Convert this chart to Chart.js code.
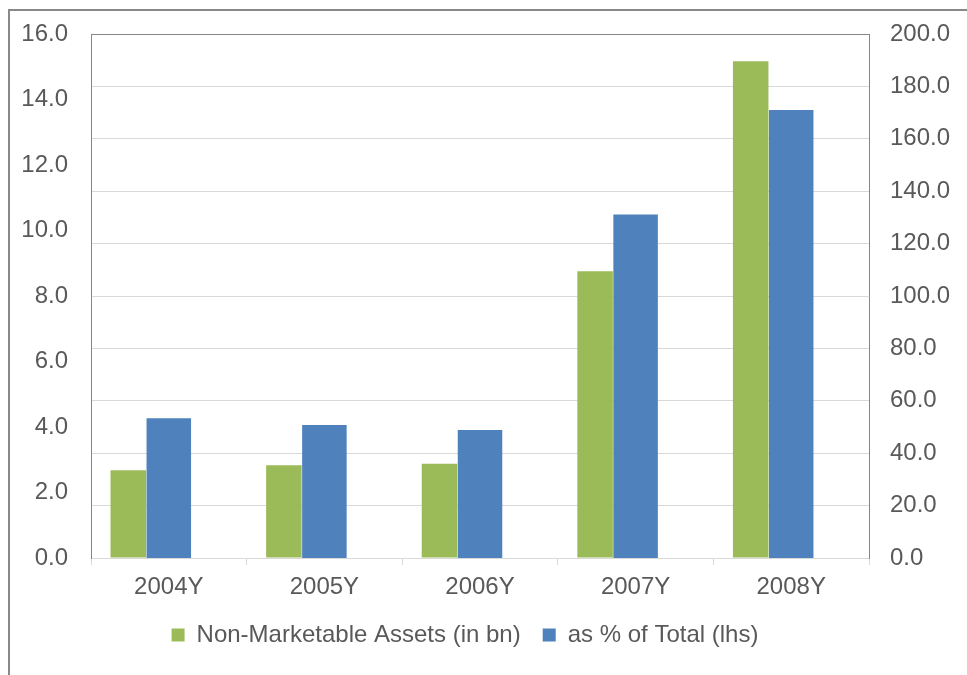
<!DOCTYPE html>
<html>
<head>
<meta charset="utf-8">
<script src="https://cdn.jsdelivr.net/npm/chart.js@4.4.1/dist/chart.umd.min.js"></script>
<style>
  body { margin: 0; background: #ffffff; overflow: hidden; }
  #wrap { position: relative; width: 967px; height: 675px; }
  #frame {
    position: absolute; left: 8px; top: 9px; right: -4px; bottom: -4px;
    border-left: 2px solid #898989; border-top: 2px solid #898989;
    pointer-events: none;
  }
</style>
</head>
<body>
<div id="wrap">
  <canvas id="chart" width="967" height="675"></canvas>
  <div id="frame"></div>
</div>
<script>
// chart data
const years = ['2004Y', '2005Y', '2006Y', '2007Y', '2008Y'];
const nonMarketable = [33.5, 35.4, 36.0, 109.4, 189.6];   // right axis
const pctOfTotal = [4.27, 4.06, 3.91, 10.49, 13.68];      // left axis (lhs)
const leftTicks = [0, 2, 4, 6, 8, 10, 12, 14, 16];
const rightTicks = [0, 20, 40, 60, 80, 100, 120, 140, 160, 180, 200];

const labelColor = '#595959';
const gridColor = '#d9d9d9';
const frameColor = '#868686';
const font = { family: 'Liberation Sans', size: 24 };

const ctx = document.getElementById('chart').getContext('2d');

new Chart(ctx, {
    type: 'bar',
    data: {
        labels: years,
        datasets: [
            {
                label: 'Non-Marketable Assets (in bn)',
                data: nonMarketable,
                yAxisID: 'y1',
                backgroundColor: '#9bbb59',
                categoryPercentage: 0.781,
                barPercentage: 0.877,
            },
            {
                label: 'as % of Total (lhs)',
                data: pctOfTotal,
                yAxisID: 'y',
                backgroundColor: '#4f81bd',
                categoryPercentage: 0.781,
                barPercentage: 1.099,
            },
            {
                // empty slot so the blue bar sits in the middle of each year
                label: '',
                data: years.map(() => null),
                yAxisID: 'y',
                categoryPercentage: 0.781,
            },
        ],
    },
    options: {
        responsive: false,
        animation: false,
        // negative left padding only shifts the centred legend a bit to the left
        layout: { padding: { left: -32, right: 5, top: 34, bottom: 18 } },
        plugins: {
            tooltip: { enabled: false },
            legend: {
                position: 'bottom',
                labels: {
                    color: labelColor,
                    font: font,
                    boxWidth: 13,
                    boxHeight: 13,
                    padding: 22,
                    filter: (item) => item.text !== '',
                },
            },
        },
        scales: {
            x: {
                offset: true,
                grid: {
                    drawOnChartArea: false,
                    tickLength: 7,
                    color: gridColor,
                },
                border: { color: gridColor },
                ticks: {
                    color: labelColor,
                    font: font,
                    padding: 8,
                    maxRotation: 0,
                },
                afterFit: (s) => { s.height = 43; },
            },
            y: {
                position: 'left',
                min: 0,
                max: 16,
                afterBuildTicks: (s) => { s.ticks = leftTicks.map(v => ({ value: v })); },
                grid: { display: false, tickLength: 15 },
                border: { color: frameColor, width: 1 },
                ticks: {
                    color: labelColor,
                    font: font,
                    padding: 8,
                    callback: (v) => Number(v).toFixed(1),
                },
                afterFit: (s) => { s.width = 123; },
            },
            y1: {
                position: 'right',
                min: 0,
                max: 200,
                afterBuildTicks: (s) => { s.ticks = rightTicks.map(v => ({ value: v })); },
                grid: {
                    tickLength: 13,
                    tickColor: 'rgba(0,0,0,0)',
                    color: (c) => (c.tick && c.tick.value === 200 ? frameColor : gridColor),
                },
                border: { color: frameColor, width: 1 },
                ticks: {
                    color: labelColor,
                    font: font,
                    padding: 8,
                    callback: (v) => Number(v).toFixed(1),
                },
                afterFit: (s) => { s.width = 93; },
            },
        },
    },
});
</script>
</body>
</html>
